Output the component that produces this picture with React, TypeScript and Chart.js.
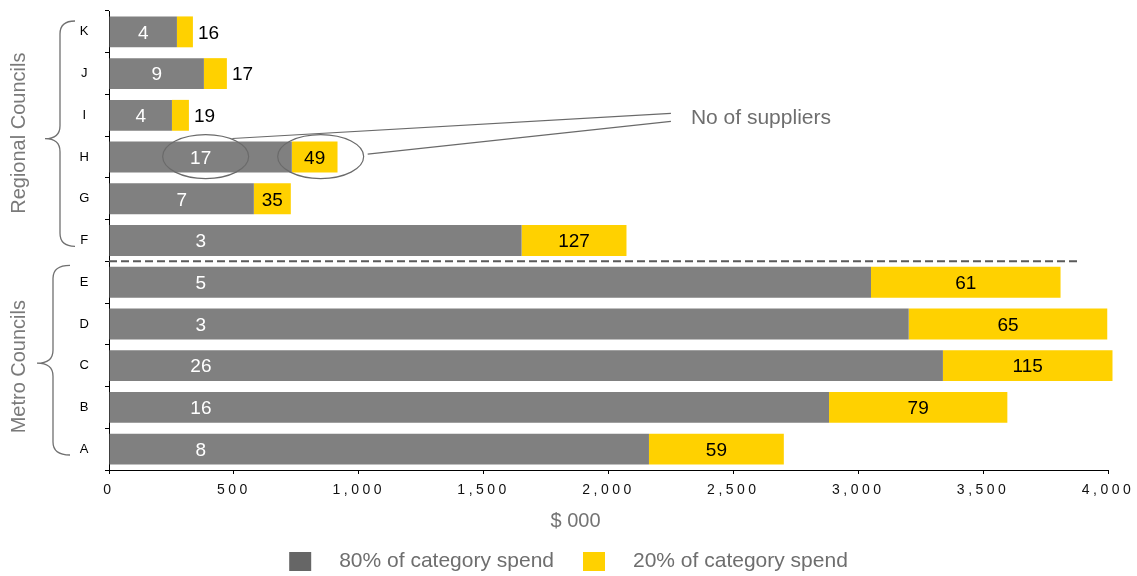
import React, { useEffect, useRef } from 'react';
import { Chart, registerables } from 'chart.js';

Chart.register(...registerables);

// ---------- data ----------
const councils = ['K', 'J', 'I', 'H', 'G', 'F', 'E', 'D', 'C', 'B', 'A'];
const spend80 = [272, 380, 252, 732, 580, 1652, 3051, 3202, 3339, 2883, 2162];
const spend20 = [64, 92, 68, 183, 148, 420, 759, 795, 679, 714, 540];
const suppliers80 = [4, 9, 4, 17, 7, 3, 5, 3, 26, 16, 8];
const suppliers20 = [16, 17, 19, 49, 35, 127, 61, 65, 115, 79, 59];
const seriesNames = ['80% of category spend', '20% of category spend'];
const groupNames = ['Regional Councils', 'Metro Councils'];
const groupFirst = ['K', 'E'];
const groupLast = ['F', 'A'];
const xMin = 0;
const xMax = 4000;
const xStep = 500;
const axisTitle = '$ 000';
const annotationText = 'No of suppliers';
const annotatedCouncil = 'H';
const dividerEndValue = 3890;

// ---------- styles ----------
const FONT = '"Liberation Sans", Arial, Helvetica, sans-serif';
const GRAY = '#808080';
const YELLOW = '#FFD100';
const LEGEND_GRAY = '#666666';
const TEXT_GRAY = '#6e6e6e';

function drawBrace(ctx: CanvasRenderingContext2D, xe: number, xs: number, xt: number, top: number, bottom: number, tipY: number) {
  const r = 13;
  ctx.beginPath();
  ctx.moveTo(xe, top);
  ctx.quadraticCurveTo(xs, top, xs, top + r);
  ctx.lineTo(xs, tipY - r);
  ctx.quadraticCurveTo(xs, tipY, xt, tipY);
  ctx.quadraticCurveTo(xs, tipY, xs, tipY + r);
  ctx.lineTo(xs, bottom - r);
  ctx.quadraticCurveTo(xs, bottom, xe, bottom);
  ctx.stroke();
}

const overlayPlugin = {
  id: 'overlay',
  beforeDraw(chart: any) {
    chart.ctx.letterSpacing = '3.5px';
  },
  beforeDatasetsDraw(chart: any) {
    chart.ctx.letterSpacing = '0px';
  },
  afterDatasetsDraw(chart: any) {
    const ctx: CanvasRenderingContext2D = chart.ctx;
    const xs = chart.scales.x;
    const ys = chart.scales.y;
    const area = chart.chartArea;
    (ctx as any).letterSpacing = '0px';
    ctx.save();

    // data labels
    const m0 = chart.getDatasetMeta(0);
    const m1 = chart.getDatasetMeta(1);
    const labelFont = `19px ${FONT}`;
    const grayLabelX: number[] = [];
    const yellowLabelX: number[] = [];
    m0.data.forEach((bar: any, i: number) => {
      const p = bar.getProps(['x', 'y', 'base'], true);
      const cap = xs.getPixelForValue(368);
      const lx = Math.min((p.x + p.base) / 2, cap);
      grayLabelX[i] = lx;
      ctx.font = labelFont;
      ctx.fillStyle = '#ffffff';
      ctx.textAlign = 'center';
      ctx.textBaseline = 'middle';
      ctx.fillText(String(suppliers80[i]), lx, p.y + 1.5);
    });
    m1.data.forEach((bar: any, i: number) => {
      const p = bar.getProps(['x', 'y', 'base'], true);
      ctx.font = labelFont;
      ctx.fillStyle = '#000000';
      ctx.textBaseline = 'middle';
      if (p.x - p.base < 30) {
        ctx.textAlign = 'left';
        ctx.fillText(String(suppliers20[i]), p.x + 5, p.y + 1.5);
        yellowLabelX[i] = p.x + 16;
      } else {
        ctx.textAlign = 'center';
        const cx = (p.x + p.base) / 2;
        ctx.fillText(String(suppliers20[i]), cx, p.y + 1.5);
        yellowLabelX[i] = cx;
      }
    });

    // dashed divider between groups
    const iLastRegional = councils.indexOf(groupLast[0]);
    const divY = (ys.getPixelForValue(iLastRegional) + ys.getPixelForValue(iLastRegional + 1)) / 2;
    ctx.strokeStyle = '#5a5a5a';
    ctx.lineWidth = 2;
    ctx.setLineDash([8, 4]);
    ctx.beginPath();
    ctx.moveTo(area.left, divY);
    ctx.lineTo(xs.getPixelForValue(dividerEndValue), divY);
    ctx.stroke();
    ctx.setLineDash([]);

    // group braces and titles
    const rowH = Math.abs(ys.getPixelForValue(1) - ys.getPixelForValue(0));
    const braceX = [[75, 60, 45], [70, 53, 37]];
    groupNames.forEach((name, g) => {
      const top = ys.getPixelForValue(councils.indexOf(groupFirst[g])) - rowH / 2;
      const bottom = ys.getPixelForValue(councils.indexOf(groupLast[g])) + rowH / 2;
      const bt = top + (g === 0 ? 10 : 4);
      const bb = bottom - 15;
      ctx.strokeStyle = '#707070';
      ctx.lineWidth = 1.3;
      drawBrace(ctx, braceX[g][0], braceX[g][1], braceX[g][2], bt, bb, (bt + bb) / 2 + (g === 0 ? 5 : 3));
      ctx.save();
      ctx.translate(19.5, (top + bottom) / 2 - (g === 0 ? 3 : -1));
      ctx.rotate(-Math.PI / 2);
      ctx.font = `20px ${FONT}`;
      ctx.fillStyle = '#7a7a7a';
      ctx.textAlign = 'center';
      ctx.textBaseline = 'middle';
      ctx.fillText(name, 0, 0);
      ctx.restore();
    });

    // annotation: ellipses, leader lines, text
    const ai = councils.indexOf(annotatedCouncil);
    const ay = ys.getPixelForValue(ai) - 0.5;
    const e1x = grayLabelX[ai] + 5;
    const e2x = yellowLabelX[ai] + 6;
    const rx = 43;
    const ry = 22;
    ctx.strokeStyle = '#6a6a6a';
    ctx.lineWidth = 1.2;
    ctx.beginPath();
    ctx.ellipse(e1x, ay, rx, ry, 0, 0, Math.PI * 2);
    ctx.stroke();
    ctx.beginPath();
    ctx.ellipse(e2x, ay, rx, ry, 0, 0, Math.PI * 2);
    ctx.stroke();
    const textY = ys.getPixelForValue(councils.indexOf('I')) + 3;
    const textX = xs.getPixelForValue(2330);
    const lineEndX = textX - 20;
    ctx.beginPath();
    ctx.moveTo(e1x + rx * 0.62, ay - ry * 0.82);
    ctx.lineTo(lineEndX, textY - 5);
    ctx.moveTo(e2x + rx + 4, ay - 2.5);
    ctx.lineTo(lineEndX, textY + 3);
    ctx.stroke();
    ctx.font = `21px ${FONT}`;
    ctx.fillStyle = TEXT_GRAY;
    ctx.textAlign = 'left';
    ctx.textBaseline = 'middle';
    ctx.fillText(annotationText, textX, textY);

    // x axis title
    ctx.font = `20px ${FONT}`;
    ctx.fillStyle = '#737373';
    ctx.textAlign = 'center';
    ctx.textBaseline = 'middle';
    ctx.fillText(axisTitle, chart.width / 2 + 7, 521);

    // legend
    ctx.font = `21px ${FONT}`;
    const boxW = 22;
    const boxH = 19;
    const gapText = 28;
    const gapItems = 29;
    const widths = seriesNames.map((s) => ctx.measureText(s).width);
    const total = widths.reduce((a, b) => a + b, 0) + seriesNames.length * (boxW + gapText) + gapItems * (seriesNames.length - 1);
    let lx = (chart.width - total) / 2;
    const legendY = 561.5;
    const legendColors = [LEGEND_GRAY, YELLOW];
    seriesNames.forEach((s, i) => {
      ctx.fillStyle = legendColors[i];
      ctx.fillRect(lx, legendY - boxH / 2, boxW, boxH);
      ctx.fillStyle = TEXT_GRAY;
      ctx.textAlign = 'left';
      ctx.fillText(s, lx + boxW + gapText, legendY);
      lx += boxW + gapText + widths[i] + gapItems;
    });

    ctx.restore();
  },
};

export default function App() {
  const ref = useRef<HTMLCanvasElement | null>(null);

  useEffect(() => {
    if (!ref.current) return;
    const chart = new Chart(ref.current, {
      type: 'bar',
      data: {
        labels: councils,
        datasets: [
          {
            label: seriesNames[0],
            data: spend80,
            backgroundColor: GRAY,
            borderWidth: 0,
            barPercentage: 0.74,
            categoryPercentage: 1,
            clip: false as any,
          },
          {
            label: seriesNames[1],
            data: spend20,
            backgroundColor: YELLOW,
            borderWidth: 0,
            barPercentage: 0.74,
            categoryPercentage: 1,
            clip: false as any,
          },
        ],
      },
      options: {
        indexAxis: 'y',
        responsive: false,
        animation: false,
        devicePixelRatio: 1,
        layout: { padding: { top: 11, right: 29, left: 0, bottom: 0 } },
        plugins: {
          legend: { display: false },
          tooltip: { enabled: false },
        },
        scales: {
          y: {
            type: 'category',
            stacked: true,
            grid: { drawOnChartArea: false, drawTicks: true, tickLength: 4, color: '#000', offset: true },
            border: { display: true, color: '#000', width: 1 },
            ticks: { font: { size: 13, family: FONT }, color: '#000', crossAlign: 'center', padding: 14 },
            afterFit: (s: any) => {
              s.width = 109;
              s.paddingTop = 0;
              s.paddingBottom = 0;
            },
          },
          x: {
            type: 'linear',
            stacked: true,
            min: xMin,
            max: xMax,
            grid: { drawOnChartArea: false, drawTicks: true, tickLength: 4, color: '#000' },
            border: { display: true, color: '#000', width: 1 },
            ticks: {
              stepSize: xStep,
              autoSkip: false,
              maxRotation: 0,
              padding: 8,
              color: '#111',
              font: { size: 14, family: FONT },
              callback: (v: any) => Number(v).toLocaleString('en-US'),
            },
            afterFit: (s: any) => {
              s.height = 106;
            },
          },
        },
      },
      plugins: [overlayPlugin],
    });
    return () => chart.destroy();
  }, []);

  return (
    <div style={{ position: 'absolute', left: 0, top: 0, width: 1137, height: 576 }}>
      <canvas ref={ref} width={1137} height={576} />
    </div>
  );
}
